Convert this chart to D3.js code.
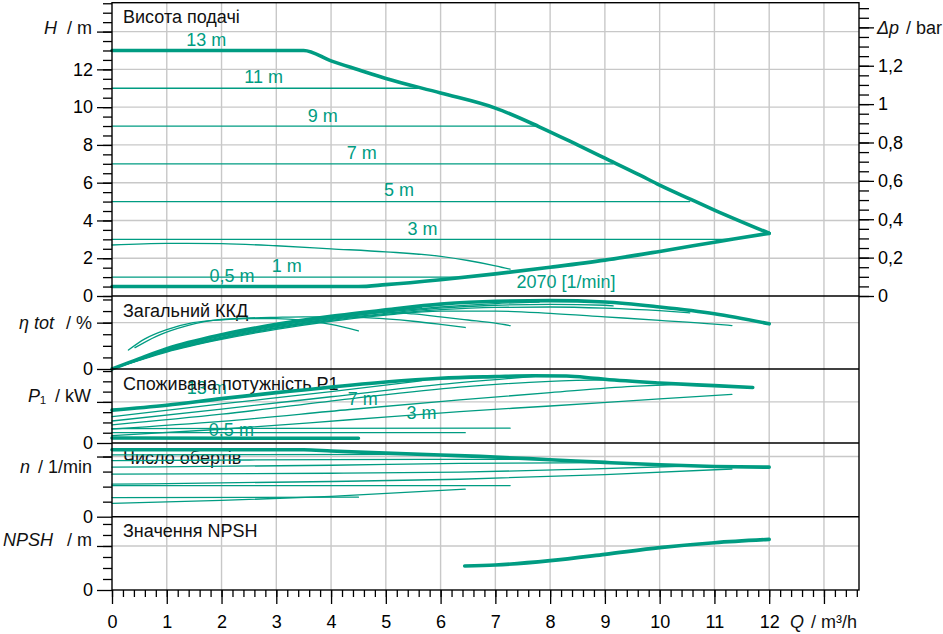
<!DOCTYPE html>
<html>
<head>
<meta charset="utf-8">
<script src="https://cdn.jsdelivr.net/npm/d3@7"></script>
<style>
body { margin: 0; background: #fff; }
svg { display: block; font-family: "Liberation Sans", Arial, sans-serif; }
</style>
</head>
<body>
<div id="chart"></div>
<script>
// ---- data: pump curves, Q in m3/h ----
// Head H (m)
const headMax = [[0, 13], [3.5, 13], [4, 12.45], [4.5, 11.98], [5, 11.52], [6, 10.75], [7, 9.95], [7.8, 8.96], [8.5, 8.0], [9, 7.3], [9.64, 6.4], [10, 5.87], [10.58, 5.1], [11, 4.55], [12, 3.32]]
const headMin = [[0, 0.5], [4.5, 0.5], [5, 0.6], [6, 0.86], [7, 1.17], [8, 1.52], [9, 1.9], [10, 2.36], [11, 2.85], [11.35, 3.02], [12, 3.32]]
const headLevels = [11, 9, 7, 5, 3, 1]
const headLevelEnds = [5.65, 7.8, 9.15, 10.55, 11.32, 6.45]
const head2070 = [[0, 2.7], [1, 2.79], [2, 2.77], [3, 2.66], [4, 2.5], [5, 2.34], [6, 2.1], [6.5, 1.88], [7, 1.6], [7.27, 1.42]]
const headLabelText = ["13 m", "11 m", "9 m", "7 m", "5 m", "3 m", "1 m", "0,5 m", "2070 [1/min]"]
const headLabelQ = [1.72, 2.77, 3.85, 4.56, 5.24, 5.67, 3.19, 2.19, 8.29]
const headLabelH = [13.6, 11.6, 9.58, 7.6, 5.62, 3.58, 1.6, 1.11, 0.76]

// Efficiency eta tot (%)
const etaMax = [[0, 0], [0.5, 9], [1, 17.5], [2, 29.5], [3, 38.5], [4, 45.5], [5, 51], [6, 56], [7, 58.5], [8, 59], [9, 57.8], [10, 53.5], [11, 47.7], [12, 39]]
const eta11 = [[0, 0], [0.5, 8.6], [1, 16.8], [2, 28.5], [3, 37.3], [4, 44.3], [5, 50], [5.65, 53]]
const eta9 = [[0, 0], [0.5, 8.3], [1, 16.2], [2, 27.6], [3, 36.5], [4, 43.5], [5, 49], [6, 53.5], [7, 56.5], [7.8, 57.8]]
const eta7 = [[0, 0], [0.5, 8], [1, 15.7], [2, 26.9], [3, 35.7], [4, 42.7], [5, 48], [6, 52.5], [7, 55], [8, 55.8], [9, 55], [9.15, 54.5]]
const eta5 = [[0, 0], [0.5, 7.8], [1, 15.2], [2, 26.2], [3, 35], [4, 42], [5, 47.2], [6, 51.2], [7, 53.2], [8, 53.5], [9, 52.5], [10, 50.3], [10.55, 48.5]]
const eta3 = [[0, 0], [0.5, 7.5], [1, 14.6], [2, 25.5], [3, 34.2], [4, 41.2], [5, 46.5], [6, 50], [7, 50], [8, 48], [9, 45], [10, 42], [11, 38.8], [11.32, 37.5]]
const eta2070 = [[0, 0], [0.5, 7.9], [1, 15.4], [2, 26.5], [3, 35.4], [4, 43.5], [4.5, 46.5], [5, 49], [5.5, 47.5], [6, 45], [6.5, 42.3], [7, 39.5], [7.27, 37.4]]
const eta1 = [[0.42, 18.4], [0.8, 28], [1.2, 35], [1.84, 42], [2.5, 44], [3, 44.6], [3.5, 45], [4.3, 45], [5, 43.2], [5.5, 41.2], [6, 38.5], [6.45, 35.8]]
const eta05 = [[0.3, 16.4], [0.6, 26], [1, 34], [1.48, 40], [2, 42.5], [2.5, 43.5], [3, 43.5], [3.5, 42], [4, 38.5], [4.5, 33]]

// Power input P1 (kW)
const powerMax = [[0, 0.16], [1, 0.184], [2, 0.216], [3, 0.245], [3.5, 0.258], [4, 0.272], [5, 0.297], [6, 0.315], [7, 0.323], [7.7, 0.327], [8.3, 0.326], [8.8, 0.315], [9, 0.31], [10, 0.292], [11, 0.279], [11.7, 0.27]]
const power11 = [[0, 0.128], [2, 0.19], [4, 0.25], [5.65, 0.303]]
const power9 = [[0, 0.107], [2, 0.165], [4, 0.225], [6, 0.285], [7.8, 0.326]]
const power7 = [[0, 0.088], [2, 0.14], [4.34, 0.215], [6.35, 0.272], [8, 0.3], [9.15, 0.308]]
const power5 = [[0, 0.068], [2, 0.105], [4.34, 0.163], [6.35, 0.21], [8, 0.245], [9.5, 0.275], [10.55, 0.286]]
const power3 = [[0, 0.036], [2, 0.067], [4.34, 0.113], [6.35, 0.153], [8, 0.18], [10, 0.215], [11.32, 0.237]]
const power2070 = [[0, 0.07], [7.27, 0.072]]
const power1 = [[0, 0.05], [6.45, 0.05]]
const power05 = [[0, 0.024], [4.5, 0.023]]
const powerLabelText = ["13 m", "7 m", "3 m", "0,5 m"]
const powerLabelQ = [1.73, 4.58, 5.65, 2.18]
const powerLabelP = [0.269, 0.217, 0.147, 0.067]

// Speed n (1/min)
const speedMax = [[0, 4447], [3.5, 4447], [4, 4370], [5, 4230], [6, 4100], [6.72, 4010], [8, 3790], [9, 3610], [10, 3450], [11, 3340], [12, 3293]]
const speed11 = [[0, 4110], [5.65, 4150]]
const speed9 = [[0, 3730], [4, 3790], [7.8, 3820]]
const speed7 = [[0, 3290], [4, 3420], [6.35, 3540], [9.15, 3590]]
const speed5 = [[0, 2830], [4, 2890], [6.35, 2960], [8.5, 3150], [10.55, 3370]]
const speed3 = [[0, 2160], [4, 2340], [6.35, 2490], [9, 2800], [11.32, 3170]]
const speed2070 = [[0, 2070], [7.27, 2070]]
const speed1 = [[0, 890], [2, 1080], [4, 1350], [6.45, 1830]]
const speed05 = [[0, 1270], [4.5, 1300]]

// NPSH (m)
const npsh = [[6.44, 2.18], [7, 2.27], [8, 2.67], [9, 3.24], [10, 3.85], [11, 4.3], [12, 4.6]]

const panelTitles = ["Висота подачі", "Загальний ККД", "Споживана потужність Р1", "Число обертів", "Значення NPSH"]

// ---- layout ----
const green = "#009c82"
const gridColor = "#c8c8c8"
var width = 943, height = 634
var left = 112, right = 859
var fontSize = "18px"

var svg = d3.select("#chart").append("svg")
    .attr("width", width)
    .attr("height", height)

var x = d3.scaleLinear().domain([0, 13.64]).range([left, right])
var yH = d3.scaleLinear().domain([0, 15.53]).range([296, 2.7])
var yBar = d3.scaleLinear().domain([0, 15.53 / 10.16]).range([296, 2.7])
var yEta = d3.scaleLinear().domain([0, 63]).range([369, 296])
var yP = d3.scaleLinear().domain([0, 0.36]).range([443, 369])
var yN = d3.scaleLinear().domain([0, 4900]).range([516.7, 443])
var yNpsh = d3.scaleLinear().domain([0, 6.66]).range([590, 516.7])
var panels = [yH, yEta, yP, yN, yNpsh]

// grid
var grid = svg.append("g")
grid.selectAll("vgrid").data(d3.range(1, 14)).enter().append("line")
    .attr("x1", d => x(d)).attr("x2", d => x(d))
    .attr("y1", yH.range()[1]).attr("y2", yNpsh.range()[0])
    .style("stroke", gridColor).style("stroke-width", 1.4)
var hGrid = [[yH, 2], [yH, 4], [yH, 6], [yH, 8], [yH, 10], [yH, 12], [yH, 14], [yEta, 40], [yP, 0.2], [yN, 4000], [yNpsh, 4]]
grid.selectAll("hgrid").data(hGrid).enter().append("line")
    .attr("x1", left).attr("x2", right)
    .attr("y1", d => d[0](d[1])).attr("y2", d => d[0](d[1]))
    .style("stroke", gridColor).style("stroke-width", 1.4)

// teal labels (under the titles and curves)
function addLabels(texts, qs, vs, scale) {
    svg.append("g").selectAll("text").data(texts).enter().append("text")
        .attr("x", (d, i) => x(qs[i]))
        .attr("y", (d, i) => scale(vs[i]))
        .attr("dy", "0.36em")
        .style("text-anchor", "middle")
        .style("font-size", fontSize)
        .style("fill", green)
        .text(d => d)
}
addLabels(headLabelText, headLabelQ, headLabelH, yH)
addLabels(powerLabelText, powerLabelQ, powerLabelP, yP)

// panel titles
svg.append("g").selectAll("text").data(panelTitles).enter().append("text")
    .attr("x", 123)
    .attr("y", (d, i) => panels[i].range()[1] + 20.7)
    .style("font-size", fontSize)
    .style("fill", "#111")
    .text(d => d)

// curves
function curve(data, scale, thick) {
    svg.append("path")
        .datum(data)
        .attr("d", d3.line().x(d => x(d[0])).y(d => scale(d[1])).curve(d3.curveMonotoneX))
        .style("fill", "none")
        .style("stroke", green)
        .style("stroke-width", thick ? 3.6 : 1.3)
        .style("stroke-linecap", "round")
}
headLevels.forEach(function (h, i) {
    curve([[0, h], [headLevelEnds[i], h]], yH, false)
})
curve(head2070, yH, false)
curve(headMax, yH, true)
curve(headMin, yH, true)

;[eta11, eta9, eta7, eta5, eta3, eta2070, eta1, eta05].forEach(c => curve(c, yEta, false))
curve(etaMax, yEta, true)

;[power11, power9, power7, power5, power3, power2070, power1].forEach(c => curve(c, yP, false))
curve(powerMax, yP, true)
curve(power05, yP, true)

;[speed11, speed9, speed7, speed5, speed3, speed2070, speed1, speed05].forEach(c => curve(c, yN, false))
curve(speedMax, yN, true)

curve(npsh, yNpsh, true)

// frame and panel separators
svg.append("rect")
    .attr("x", left).attr("y", yH.range()[1])
    .attr("width", right - left).attr("height", yNpsh.range()[0] - yH.range()[1])
    .style("fill", "none").style("stroke", "#000").style("stroke-width", 1.4)
svg.selectAll("sep").data([296, 369, 443, 516.7]).enter().append("line")
    .attr("x1", left).attr("x2", right).attr("y1", d => d).attr("y2", d => d)
    .style("stroke", "#000").style("stroke-width", 1.4)

// axes
var comma = d => String(+d.toFixed(2)).replace(".", ",")
function drawAxis(axis, pos, values, size, padding, format) {
    var g = svg.append("g").attr("transform", pos)
        .call(axis.tickValues(values).tickSize(size).tickPadding(padding).tickFormat(format))
    g.attr("font-family", null).attr("font-size", null)
    g.select(".domain").remove()
    g.selectAll("line").style("stroke", "#000").style("stroke-width", 1.3)
    g.selectAll("text").style("font-size", fontSize).style("fill", "#000")
    return g
}
var atLeft = "translate(" + left + ",0)"
// minor ticks
drawAxis(d3.axisLeft(yH), atLeft, d3.range(0, 15.6, 0.5), 9, 4, "")
drawAxis(d3.axisLeft(yEta), atLeft, d3.range(10, 61, 10), 9, 4, "")
drawAxis(d3.axisLeft(yP), atLeft, d3.range(0.05, 0.36, 0.05), 9, 4, "")
drawAxis(d3.axisLeft(yN), atLeft, d3.range(1000, 4001, 1000), 9, 4, "")
drawAxis(d3.axisLeft(yNpsh), atLeft, d3.range(1, 7, 1), 9, 4, "")
// major ticks
drawAxis(d3.axisLeft(yH), atLeft, d3.range(0, 13, 2), 15, 4, comma)
drawAxis(d3.axisLeft(yH), atLeft, [14], 15, 4, "")
drawAxis(d3.axisLeft(yEta), atLeft, [0], 15, 4, comma)
drawAxis(d3.axisLeft(yEta), atLeft, [40], 15, 4, "")
drawAxis(d3.axisLeft(yP), atLeft, [0], 15, 4, comma)
drawAxis(d3.axisLeft(yP), atLeft, [0.2], 15, 4, "")
drawAxis(d3.axisLeft(yN), atLeft, [0], 15, 4, comma)
drawAxis(d3.axisLeft(yN), atLeft, [4000], 15, 4, "")
drawAxis(d3.axisLeft(yNpsh), atLeft, [0], 15, 4, comma)
drawAxis(d3.axisLeft(yNpsh), atLeft, [4], 15, 4, "")
// right pressure axis
var atRight = "translate(" + right + ",0)"
drawAxis(d3.axisRight(yBar), atRight, d3.range(0, 1.52, 0.05), 10, 4, "")
drawAxis(d3.axisRight(yBar), atRight, d3.range(0, 1.21, 0.2), 15, 4, comma)
drawAxis(d3.axisRight(yBar), atRight, [1.4], 15, 4, "")
// flow axis
var atBottom = "translate(0," + yNpsh.range()[0] + ")"
drawAxis(d3.axisBottom(x), atBottom, d3.range(0, 13.65, 0.2), 7, 4, "")
drawAxis(d3.axisBottom(x), atBottom, d3.range(0, 14, 1), 14, 11, d => d <= 12 ? d : "")

// axis titles
function axisTitle(px, py, anchor, parts) {
    var t = svg.append("text")
        .attr("x", px).attr("y", py).attr("dy", "0.35em")
        .style("text-anchor", anchor)
        .style("font-size", fontSize)
        .style("fill", "#111")
    parts.forEach(function (p) {
        var s = t.append("tspan").text(p.text)
        if (p.italic) s.style("font-style", "italic")
        if (p.dx) s.attr("dx", p.dx)
        if (p.small) s.style("font-size", "12px")
    })
}
axisTitle(92, yH(14) - 4, "end", [{ text: "H", italic: true }, { text: "/ m", dx: 10 }])
axisTitle(92, yEta(40), "end", [{ text: "η tot", italic: true }, { text: "/ %", dx: 12 }])
axisTitle(91, yP(0.23), "end", [{ text: "P", italic: true }, { text: "₁" }, { text: "/ kW", dx: 9 }])
axisTitle(92, yN(3330), "end", [{ text: "n", italic: true }, { text: "/ 1/min", dx: 8 }])
axisTitle(92, yNpsh(4.55), "end", [{ text: "NPSH", italic: true }, { text: "/ m", dx: 14 }])
axisTitle(877, yBar(1.4), "start", [{ text: "Δp", italic: true }, { text: "/ bar", dx: 7 }])
axisTitle(790, 622, "start", [{ text: "Q", italic: true }, { text: "/ m³/h", dx: 7 }])
</script>
</body>
</html>
